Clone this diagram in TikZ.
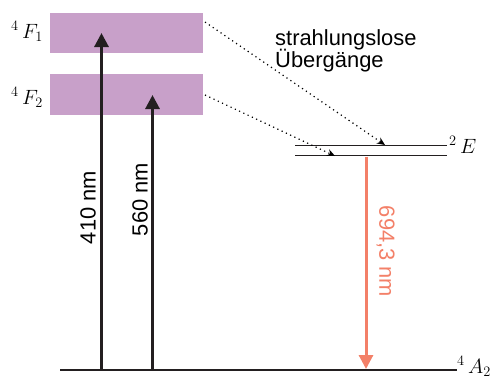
\documentclass[tikz,border=0pt]{standalone}
\usepackage{fontspec}
\setsansfont{Liberation Sans}
\usetikzlibrary{arrows.meta}
\definecolor{bandcol}{RGB}{200,160,201}
\definecolor{redcol}{RGB}{243,128,104}
\definecolor{linecol}{RGB}{35,31,32}
\tikzset{
  band/.style={fill=bandcol,draw=none},
  level/.style={draw=linecol,line width=1.3bp},
  pump/.style={draw=linecol,line width=3bp,-{Triangle[length=14bp,width=14bp]}},
  emit/.style={draw=redcol,line width=3bp,-{Triangle[length=14bp,width=14bp]}},
  nonrad/.style={draw=black,line width=1.2bp,dash pattern=on 1.2bp off 3.5bp,-{Stealth[length=8bp,width=7bp]}},
  sflabel/.style={font=\sffamily\fontsize{22}{26}\selectfont,inner sep=0pt},
  termlabel/.style={font=\fontsize{22}{26}\selectfont,inner sep=0pt},
}
\begin{document}
\begin{tikzpicture}[x=1bp,y=-1bp]
\useasboundingbox (0,0) rectangle (490,376);
% bands
\path[band] (50,13) rectangle (203,53);
\path[band] (50,74) rectangle (203,115);
\coordinate (F1r) at (205,22);
\coordinate (F2r) at (205,95);
% levels
\coordinate (A0) at (60,370);
\coordinate (A1) at (457,370);
\draw[level] (A0) -- (A1);
\coordinate (Eu0) at (295,145.5);
\coordinate (Eu1) at (447,145.5);
\coordinate (El0) at (295,155.5);
\coordinate (El1) at (447,155.5);
\draw[level] (Eu0) -- (Eu1);
\draw[level] (El0) -- (El1);
% pump arrows
\coordinate (p1a) at (101.5,370);
\coordinate (p1b) at (101.5,33);
\coordinate (p2a) at (152.5,370);
\coordinate (p2b) at (152.5,95);
\draw[pump] (p1a) -- (p1b);
\draw[pump] (p2a) -- (p2b);
% emission
\coordinate (ea) at (366,156.5);
\coordinate (eb) at (366,369);
\draw[emit] (ea) -- (eb);
% nonradiative
\coordinate (t1) at (385,145);
\coordinate (t2) at (335,156);
\draw[nonrad] (F1r) -- (t1);
\draw[nonrad] (F2r) -- (t2);
% labels
\node[sflabel,rotate=90] (l410) at (88,207.5) {410 nm};
\node[sflabel,rotate=90] (l560) at (140,199.5) {560 nm};
\node[sflabel,rotate=-90,text=redcol] (l694) at (385.5,251.5) {694,3 nm};
\node[sflabel,anchor=base west] (s1) at (275,45) {strahlungslose};
\node[sflabel,anchor=base west] (s2) at (275,67) {Übergänge};
\node[termlabel,anchor=base west] (F1) at (11,38) {${}^{4}\,F_{1}$};
\node[termlabel,anchor=base west] (F2) at (11,104) {${}^{4}\,F_{2}$};
\node[termlabel,anchor=base west] (E) at (449,153) {${}^{2}\,E$};
\node[termlabel,anchor=base west] (A) at (457,373) {${}^{4}\,A_{2}$};
\end{tikzpicture}
\end{document}
